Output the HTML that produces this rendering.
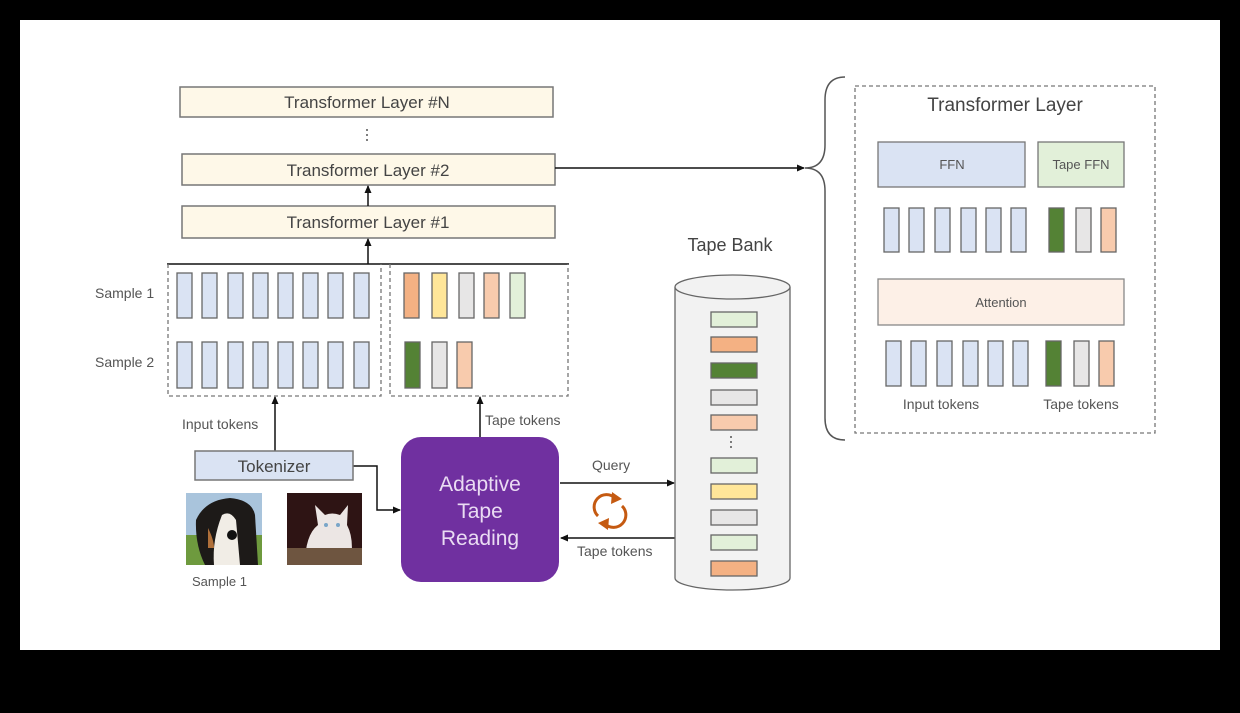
<!DOCTYPE html>
<html><head><meta charset="utf-8"><style>
html,body{margin:0;padding:0;background:#000;}
svg{display:block;font-family:"Liberation Sans",sans-serif;}
</style></head><body>
<svg width="1240" height="713" viewBox="0 0 1240 713" xmlns="http://www.w3.org/2000/svg">
<defs>
<marker id="ah" markerWidth="8" markerHeight="8" refX="7" refY="4" orient="auto" markerUnits="userSpaceOnUse">
<path d="M0,0.5 L8,4 L0,7.5 z" fill="#111"/></marker>
</defs>
<rect x="0" y="0" width="1240" height="713" fill="#000"/>
<rect x="20" y="20" width="1200" height="630" fill="#fff"/>

<g stroke="#777" stroke-width="1.5" fill="#fef8e8">
<rect x="180" y="87" width="373" height="30"/>
<rect x="182" y="154" width="373" height="31"/>
<rect x="182" y="206" width="373" height="32"/>
</g>
<g font-size="17" fill="#444" text-anchor="middle">
<text x="367" y="108">Transformer Layer #N</text>
<text x="368" y="176">Transformer Layer #2</text>
<text x="368" y="228">Transformer Layer #1</text>
</g>
<g fill="#555"><circle cx="367" cy="130" r="1"/><circle cx="367" cy="135" r="1"/><circle cx="367" cy="140" r="1"/></g>

<g stroke="#111" stroke-width="1.5" fill="none">
<line x1="368" y1="206" x2="368" y2="186" marker-end="url(#ah)"/>
<line x1="368" y1="264" x2="368" y2="239" marker-end="url(#ah)"/>
<line x1="167" y1="264" x2="569" y2="264"/>
<line x1="555" y1="168" x2="804" y2="168" marker-end="url(#ah)"/>
<line x1="275" y1="451" x2="275" y2="397" marker-end="url(#ah)"/>
<line x1="480" y1="437" x2="480" y2="397" marker-end="url(#ah)"/>
<polyline points="353,466 377,466 377,510 400,510" marker-end="url(#ah)"/>
<line x1="560" y1="483" x2="674" y2="483" marker-end="url(#ah)"/>
<line x1="675" y1="538" x2="561" y2="538" marker-end="url(#ah)"/>
</g>
<g stroke="#777" stroke-width="1.3" stroke-dasharray="4,3" fill="none">
<path d="M168,264 V396 H381 V264"/>
<path d="M390,264 V396 H568 V264"/>
<rect x="855" y="86" width="300" height="347"/>
</g>

<g font-size="14" fill="#555">
<text x="95" y="298">Sample 1</text>
<text x="95" y="367">Sample 2</text>
<text x="182" y="429">Input tokens</text>
<text x="485" y="425">Tape tokens</text>
<text x="592" y="470">Query</text>
<text x="577" y="556">Tape tokens</text>
<text x="192" y="586" font-size="13">Sample 1</text>
</g>

<g stroke="#666" stroke-width="1.3" fill="#dae3f3">
<rect x="177" y="273" width="15" height="45"/><rect x="202" y="273" width="15" height="45"/><rect x="228" y="273" width="15" height="45"/><rect x="253" y="273" width="15" height="45"/><rect x="278" y="273" width="15" height="45"/><rect x="303" y="273" width="15" height="45"/><rect x="328" y="273" width="15" height="45"/><rect x="354" y="273" width="15" height="45"/>
<rect x="177" y="342" width="15" height="46"/><rect x="202" y="342" width="15" height="46"/><rect x="228" y="342" width="15" height="46"/><rect x="253" y="342" width="15" height="46"/><rect x="278" y="342" width="15" height="46"/><rect x="303" y="342" width="15" height="46"/><rect x="328" y="342" width="15" height="46"/><rect x="354" y="342" width="15" height="46"/>
</g>
<g stroke="#666" stroke-width="1.3">
<rect x="404" y="273" width="15" height="45" fill="#f4b183"/>
<rect x="432" y="273" width="15" height="45" fill="#ffe699"/>
<rect x="459" y="273" width="15" height="45" fill="#e7e6e6"/>
<rect x="484" y="273" width="15" height="45" fill="#f8cbad"/>
<rect x="510" y="273" width="15" height="45" fill="#e2f0d9"/>
<rect x="405" y="342" width="15" height="46" fill="#548235"/>
<rect x="432" y="342" width="15" height="46" fill="#e7e6e6"/>
<rect x="457" y="342" width="15" height="46" fill="#f8cbad"/>
</g>

<rect x="195" y="451" width="158" height="29" fill="#dae3f3" stroke="#777" stroke-width="1.5"/>
<text x="274" y="472" font-size="17" fill="#444" text-anchor="middle">Tokenizer</text>

<rect x="401" y="437" width="158" height="145" rx="20" fill="#7030a0"/>
<g font-size="21" fill="#eadcf3" text-anchor="middle">
<text x="480" y="491">Adaptive</text><text x="480" y="518">Tape</text><text x="480" y="545">Reading</text>
</g>

<!-- dog -->
<rect x="186" y="493" width="76" height="72" fill="#a9c4dc"/>
<rect x="186" y="535" width="76" height="30" fill="#6e9a3e"/>
<path d="M196,520 Q205,500 230,498 Q252,500 255,515 L258,565 L205,565 Q195,545 196,520z" fill="#1d1a18"/>
<path d="M222,515 Q230,510 236,520 L240,565 L214,565 Q212,540 222,515z" fill="#f1ede6"/>
<circle cx="232" cy="535" r="5" fill="#111"/>
<path d="M208,528 Q214,540 214,548 L208,548z" fill="#b0703a"/>
<!-- cat -->
<rect x="287" y="493" width="75" height="72" fill="#2e1414"/>
<path d="M305,565 Q305,535 318,525 L315,505 L325,515 Q332,512 340,515 L348,505 L347,525 Q355,540 350,565z" fill="#ece6e4"/>
<rect x="287" y="548" width="75" height="17" fill="#6e5540"/>
<circle cx="326" cy="525" r="2" fill="#7aa6c8"/><circle cx="338" cy="525" r="2" fill="#7aa6c8"/>

<!-- refresh icon -->
<g fill="none" stroke="#c55a11" stroke-width="3">
<path d="M598,516 A12,12 0 0 1 615,498"/>
<path d="M622,506 A12,12 0 0 1 605,524"/>
</g>
<path d="M612,492 L622,499 L611,504z" fill="#c55a11"/>
<path d="M608,530 L598,523 L609,518z" fill="#c55a11"/>

<!-- cylinder -->
<path d="M675,287 V578 A57.5,12 0 0 0 790,578 V287" fill="#f2f2f2" stroke="#666" stroke-width="1.3"/>
<ellipse cx="732.5" cy="287" rx="57.5" ry="12" fill="#f2f2f2" stroke="#666" stroke-width="1.3"/>
<text x="730" y="251" font-size="18" fill="#444" text-anchor="middle">Tape Bank</text>
<g stroke="#666" stroke-width="1.3">
<rect x="711" y="312" width="46" height="15" fill="#e2f0d9"/>
<rect x="711" y="337" width="46" height="15" fill="#f4b183"/>
<rect x="711" y="363" width="46" height="15" fill="#548235"/>
<rect x="711" y="390" width="46" height="15" fill="#e7e6e6"/>
<rect x="711" y="415" width="46" height="15" fill="#f8cbad"/>
<rect x="711" y="458" width="46" height="15" fill="#e2f0d9"/>
<rect x="711" y="484" width="46" height="15" fill="#ffe699"/>
<rect x="711" y="510" width="46" height="15" fill="#e7e6e6"/>
<rect x="711" y="535" width="46" height="15" fill="#e2f0d9"/>
<rect x="711" y="561" width="46" height="15" fill="#f4b183"/>
</g>
<g fill="#555"><circle cx="731" cy="437" r="1"/><circle cx="731" cy="442" r="1"/><circle cx="731" cy="447" r="1"/></g>

<!-- brace -->
<path d="M845,77 Q825,77 825,100 V145 Q825,168 805,168 Q825,168 825,191 V418 Q825,440 845,440" fill="none" stroke="#555" stroke-width="1.5"/>

<!-- right panel -->
<text x="1005" y="111" font-size="19" fill="#444" text-anchor="middle">Transformer Layer</text>
<rect x="878" y="142" width="147" height="45" fill="#dae3f3" stroke="#777" stroke-width="1.3"/>
<rect x="1038" y="142" width="86" height="45" fill="#e2f0d9" stroke="#777" stroke-width="1.3"/>
<text x="952" y="169" font-size="13" fill="#555" text-anchor="middle">FFN</text>
<text x="1081" y="169" font-size="13" fill="#555" text-anchor="middle">Tape FFN</text>
<rect x="878" y="279" width="246" height="46" fill="#fdf0e7" stroke="#888" stroke-width="1.3"/>
<text x="1001" y="307" font-size="13" fill="#555" text-anchor="middle">Attention</text>
<g stroke="#666" stroke-width="1.3" fill="#dae3f3">
<rect x="884" y="208" width="15" height="44"/><rect x="909" y="208" width="15" height="44"/><rect x="935" y="208" width="15" height="44"/><rect x="961" y="208" width="15" height="44"/><rect x="986" y="208" width="15" height="44"/><rect x="1011" y="208" width="15" height="44"/>
<rect x="886" y="341" width="15" height="45"/><rect x="911" y="341" width="15" height="45"/><rect x="937" y="341" width="15" height="45"/><rect x="963" y="341" width="15" height="45"/><rect x="988" y="341" width="15" height="45"/><rect x="1013" y="341" width="15" height="45"/>
</g>
<g stroke="#666" stroke-width="1.3">
<rect x="1049" y="208" width="15" height="44" fill="#548235"/>
<rect x="1076" y="208" width="15" height="44" fill="#e7e6e6"/>
<rect x="1101" y="208" width="15" height="44" fill="#f8cbad"/>
<rect x="1046" y="341" width="15" height="45" fill="#548235"/>
<rect x="1074" y="341" width="15" height="45" fill="#e7e6e6"/>
<rect x="1099" y="341" width="15" height="45" fill="#f8cbad"/>
</g>
<g font-size="14" fill="#555" text-anchor="middle">
<text x="941" y="409">Input tokens</text>
<text x="1081" y="409">Tape tokens</text>
</g>
</svg>
</body></html>
